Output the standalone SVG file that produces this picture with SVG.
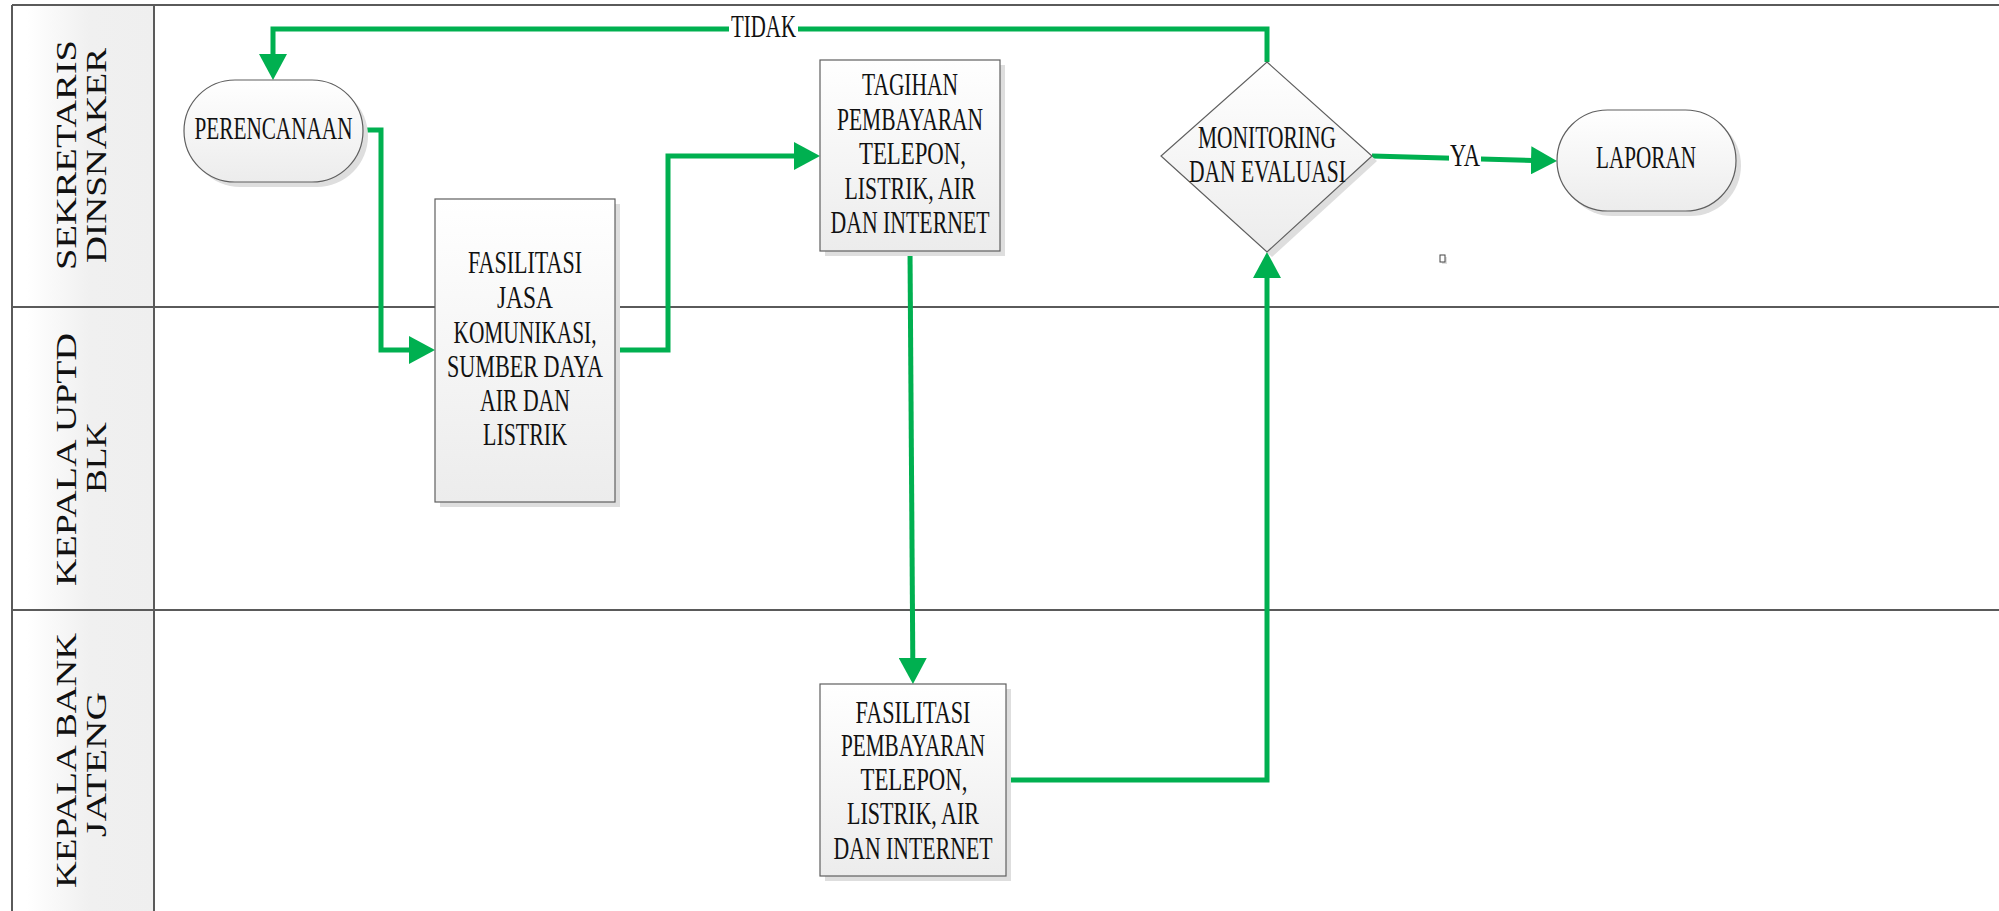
<svg xmlns="http://www.w3.org/2000/svg" width="1999" height="911" viewBox="0 0 1999 911">
  <style>
    .lane { stroke: #5a5a5a; stroke-width: 2; fill: none; }
    .hdr-txt { font-family: "Liberation Serif", "DejaVu Serif", serif; font-size: 30px; fill: #111; }
    .node { stroke: #5f5f5f; stroke-width: 1.2; fill: url(#nodeFill); }
    .shadow { fill: #dedede; }
    .txt { font-family: "Liberation Serif", "DejaVu Serif", serif; font-size: 31px; fill: #111; }
    .flow { stroke: #00b050; stroke-width: 5; fill: none; stroke-linejoin: miter; stroke-linecap: butt; marker-end: url(#arrow); }
  </style>
  <defs>
    <linearGradient id="nodeFill" x1="0" y1="0" x2="0" y2="1">
      <stop offset="0" stop-color="#ffffff"/>
      <stop offset="1" stop-color="#ececec"/>
    </linearGradient>
    <linearGradient id="hdrFill" x1="0" y1="0" x2="1" y2="0">
      <stop offset="0.1" stop-color="#ffffff"/>
      <stop offset="0.55" stop-color="#f0f0f0"/>
      <stop offset="1" stop-color="#efefef"/>
    </linearGradient>
    <marker id="arrow" markerUnits="userSpaceOnUse" markerWidth="26" markerHeight="28" viewBox="0 0 26 28" refX="2" refY="14" orient="auto">
      <path d="M0,0 L26,14 L0,28 Z" fill="#00b050"/>
    </marker>
  </defs>

  <rect width="1999" height="911" fill="#ffffff"/>

  <!-- swimlane frame -->
  <g id="lanes">
    <rect x="12" y="5" width="142" height="906" fill="url(#hdrFill)"/>
    <line class="lane" x1="12" y1="5" x2="1999" y2="5"/>
    <line class="lane" x1="12" y1="307" x2="1999" y2="307"/>
    <line class="lane" x1="12" y1="610" x2="1999" y2="610"/>
    <line class="lane" x1="12" y1="5" x2="12" y2="911"/>
    <line class="lane" x1="154" y1="5" x2="154" y2="911" stroke="#7a7a7a"/>
    <g id="lane-sekretaris">
      <text class="hdr-txt" transform="translate(76,155) rotate(-90)" x="-115" y="0" textLength="230" lengthAdjust="spacingAndGlyphs">SEKRETARIS</text>
      <text class="hdr-txt" transform="translate(106,155.5) rotate(-90)" x="-107.5" y="0" textLength="215" lengthAdjust="spacingAndGlyphs">DINSNAKER</text>
    </g>
    <g id="lane-uptd">
      <text class="hdr-txt" transform="translate(76,459.5) rotate(-90)" x="-126.5" y="0" textLength="253" lengthAdjust="spacingAndGlyphs">KEPALA UPTD</text>
      <text class="hdr-txt" transform="translate(106,457.5) rotate(-90)" x="-35.5" y="0" textLength="71" lengthAdjust="spacingAndGlyphs">BLK</text>
    </g>
    <g id="lane-bank">
      <text class="hdr-txt" transform="translate(76,760.5) rotate(-90)" x="-127.5" y="0" textLength="255" lengthAdjust="spacingAndGlyphs">KEPALA BANK</text>
      <text class="hdr-txt" transform="translate(106,764.5) rotate(-90)" x="-72.5" y="0" textLength="145" lengthAdjust="spacingAndGlyphs">JATENG</text>
    </g>
  </g>

  <!-- connectors -->
  <g id="connectors">
    <polyline class="flow" points="363,130 381,130 381,350 411,350"/>
    <polyline class="flow" points="615,350 668,350 668,156 796,156"/>
    <polyline class="flow" points="910,251 912.8,660"/>
    <polyline class="flow" points="1007,780 1267,780 1267,276"/>
    <polyline class="flow" points="1267,62 1267,29 273,29 273,56"/>
    <rect x="729" y="13" width="69" height="31" fill="#ffffff"/>
    <text class="txt" x="731" y="37" textLength="65" lengthAdjust="spacingAndGlyphs">TIDAK</text>
    <polyline class="flow" points="1372,156 1533,160.4"/>
    <rect x="1449" y="142" width="32" height="29" fill="#ffffff"/>
    <text class="txt" x="1450" y="166" textLength="30" lengthAdjust="spacingAndGlyphs">YA</text>
  </g>

  <!-- nodes -->
  <g id="perencanaan">
    <rect class="shadow" x="189" y="85" width="179" height="102" rx="51" ry="51"/>
    <rect class="node" x="184" y="80" width="179" height="102" rx="51" ry="51"/>
    <text class="txt" x="194.5" y="139" textLength="158" lengthAdjust="spacingAndGlyphs">PERENCANAAN</text>
  </g>

  <g id="fasilitasi-jasa">
    <rect class="shadow" x="440" y="204" width="180" height="303"/>
    <rect class="node" x="435" y="199" width="180" height="303"/>
    <text class="txt" x="468" y="273" textLength="114" lengthAdjust="spacingAndGlyphs">FASILITASI</text>
    <text class="txt" x="497" y="308" textLength="56" lengthAdjust="spacingAndGlyphs">JASA</text>
    <text class="txt" x="453.5" y="343" textLength="143" lengthAdjust="spacingAndGlyphs">KOMUNIKASI,</text>
    <text class="txt" x="447" y="377" textLength="156" lengthAdjust="spacingAndGlyphs">SUMBER DAYA</text>
    <text class="txt" x="480" y="411" textLength="90" lengthAdjust="spacingAndGlyphs">AIR DAN</text>
    <text class="txt" x="483" y="445" textLength="84" lengthAdjust="spacingAndGlyphs">LISTRIK</text>
  </g>

  <g id="tagihan">
    <rect class="shadow" x="825" y="65" width="180" height="191"/>
    <rect class="node" x="820" y="60" width="180" height="191"/>
    <text class="txt" x="862" y="95" textLength="96" lengthAdjust="spacingAndGlyphs">TAGIHAN</text>
    <text class="txt" x="837" y="130" textLength="146" lengthAdjust="spacingAndGlyphs">PEMBAYARAN</text>
    <text class="txt" x="859" y="164" textLength="107" lengthAdjust="spacingAndGlyphs">TELEPON,</text>
    <text class="txt" x="844.5" y="199" textLength="131" lengthAdjust="spacingAndGlyphs">LISTRIK, AIR</text>
    <text class="txt" x="830.5" y="233" textLength="159" lengthAdjust="spacingAndGlyphs">DAN INTERNET</text>
  </g>

  <g id="fasilitasi-pembayaran">
    <rect class="shadow" x="825" y="689" width="186" height="192"/>
    <rect class="node" x="820" y="684" width="186" height="192"/>
    <text class="txt" x="855.5" y="723" textLength="115" lengthAdjust="spacingAndGlyphs">FASILITASI</text>
    <text class="txt" x="841" y="756" textLength="144" lengthAdjust="spacingAndGlyphs">PEMBAYARAN</text>
    <text class="txt" x="860.5" y="790" textLength="107" lengthAdjust="spacingAndGlyphs">TELEPON,</text>
    <text class="txt" x="847" y="824" textLength="132" lengthAdjust="spacingAndGlyphs">LISTRIK, AIR</text>
    <text class="txt" x="833.5" y="859" textLength="159" lengthAdjust="spacingAndGlyphs">DAN INTERNET</text>
  </g>

  <g id="monitoring">
    <polygon class="shadow" points="1272,67 1377,161 1272,257 1166,161"/>
    <polygon class="node" points="1267,62 1372,156 1267,252 1161,156"/>
    <text class="txt" x="1198" y="148" textLength="138" lengthAdjust="spacingAndGlyphs">MONITORING</text>
    <text class="txt" x="1189" y="182" textLength="157" lengthAdjust="spacingAndGlyphs">DAN EVALUASI</text>
  </g>

  <g id="laporan">
    <rect class="shadow" x="1562" y="115" width="179" height="101" rx="50.5" ry="50.5"/>
    <rect class="node" x="1557" y="110" width="179" height="101" rx="50.5" ry="50.5"/>
    <text class="txt" x="1596" y="168" textLength="100" lengthAdjust="spacingAndGlyphs">LAPORAN</text>
  </g>

  <g id="marker-box">
    <rect class="shadow" x="1442" y="257" width="5" height="7"/>
    <rect x="1440" y="255" width="5" height="7" fill="#ffffff" stroke="#444" stroke-width="1"/>
  </g>
</svg>
